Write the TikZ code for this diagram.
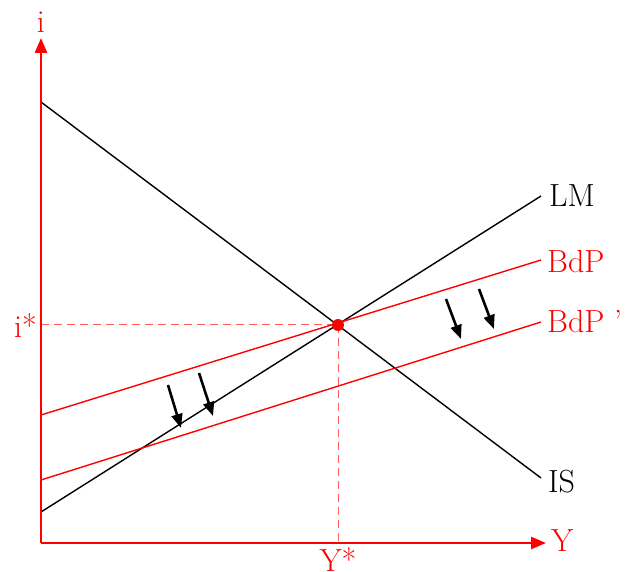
\documentclass[tikz,border=0pt]{standalone}
\usetikzlibrary{arrows.meta}
\begin{document}
\begin{tikzpicture}[x=1pt,y=-1pt,
  axis/.style={red, line width=2.6pt, -{Triangle[length=15pt,width=12pt]}},
  curve/.style={line width=1.4pt},
  redcurve/.style={red, line width=1.4pt},
  guide/.style={red!65, line width=1pt, dash pattern=on 8pt off 5pt},
  shiftarrow/.style={line width=2.6pt, -{Triangle[length=14pt,width=11pt]}},
  lbl/.style={font=\fontsize{32}{36}\selectfont, inner sep=0pt}]
\useasboundingbox (0,0) rectangle (625,572);
% coordinates
\coordinate (O) at (41,543);
\coordinate (Ytip) at (546,543);
\coordinate (Itip) at (41,38);
\coordinate (IS0) at (41,102);
\coordinate (IS1) at (541,478);
\coordinate (LM0) at (41,512);
\coordinate (LM1) at (541,196);
\coordinate (B0) at (41,415);
\coordinate (B1) at (541,260);
\coordinate (Bp0) at (41,480);
\coordinate (Bp1) at (541,322);
\coordinate (E) at (338,325);
\coordinate (Ei) at (41,325);
\coordinate (EY) at (338,543);
\coordinate (a1s) at (168,385); \coordinate (a1e) at (181,428);
\coordinate (a2s) at (199,373); \coordinate (a2e) at (213,416);
\coordinate (a3s) at (446,299); \coordinate (a3e) at (461,339);
\coordinate (a4s) at (479,289); \coordinate (a4e) at (494,329);
% guides
\draw[guide] (Ei) -- (E);
\draw[guide] (E) -- (EY);
% curves
\draw[curve] (IS0) -- (IS1);
\draw[curve] (LM0) -- (LM1);
\draw[redcurve] (B0) -- (B1);
\draw[redcurve] (Bp0) -- (Bp1);
% axes
\draw[axis] (O) -- (Itip);
\draw[axis] (O) -- (Ytip);
% equilibrium
\fill[red] (E) circle (6pt);
% shift arrows
\draw[shiftarrow] (a1s) -- (a1e);
\draw[shiftarrow] (a2s) -- (a2e);
\draw[shiftarrow] (a3s) -- (a3e);
\draw[shiftarrow] (a4s) -- (a4e);
% labels
\node[lbl, anchor=west] (lLM) at (549,196) {LM};
\node[lbl, anchor=west, red] (lB) at (547,262) {BdP};
\node[lbl, anchor=west, red] (lBp) at (547,322) {BdP '};
\node[lbl, anchor=west] (lIS) at (548,482) {IS};
\node[lbl, anchor=west, red] (lY) at (551,541) {Y};
\node[lbl, red] (li) at (41,22) {i};
\node[lbl, red, anchor=east] (listar) at (37,326) {i*};
\node[lbl, red, anchor=north] (lYstar) at (338,547) {Y*};
\end{tikzpicture}
\end{document}
